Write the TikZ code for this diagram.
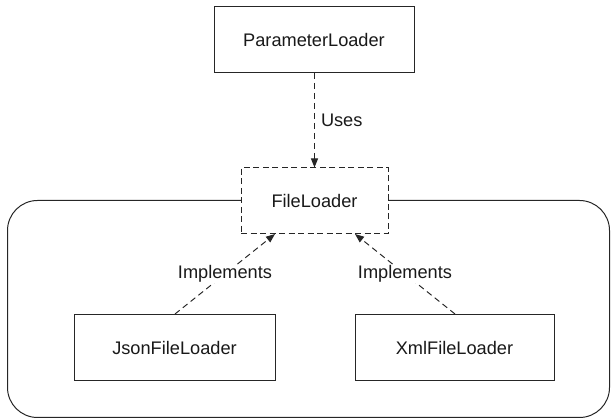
\documentclass[tikz,border=0pt]{standalone}
\usepackage{fontspec}
\setmainfont{Liberation Sans}
\usetikzlibrary{arrows.meta}
\begin{document}
\begin{tikzpicture}[x=1pt,y=-1pt,
  every node/.style={font=\fontsize{18.2}{22}\selectfont, text=black!90},
  box/.style={draw=black!85, line width=1pt, fill=white, minimum width=#1, minimum height=66pt, inner sep=0pt},
  dashbox/.style={box=#1, dash pattern=on 6pt off 3.5pt},
  dep/.style={draw=black!85, line width=1pt, dash pattern=on 6pt off 4pt, -{Triangle[length=9pt,width=7pt]}},
  lbl/.style={fill=white, inner sep=1pt}]
\useasboundingbox (0,0) rectangle (611,419);
\draw[black!85, line width=1pt, rounded corners=30pt] (7.5,200.5) rectangle (609.5,417.5);
\node[box=200pt] (param) at (314,40) {ParameterLoader};
\node[dashbox=147pt] (file) at (314.5,201) {FileLoader};
\node[box=201pt] (json) at (174.5,347.5) {JsonFileLoader};
\node[box=199pt] (xml) at (454.5,347.5) {XmlFileLoader};
\coordinate (pb) at (314.5,73);
\coordinate (ft) at (314.5,167.5);
\draw[dep] (pb) -- node[anchor=west, inner sep=0pt, xshift=6pt] (uses) {Uses} (ft);
\coordinate (jt) at (175,314);
\coordinate (fl) at (275,234);
\coordinate (xt) at (455,314);
\coordinate (fr) at (355,234);
\draw[dep] (jt) -- node[lbl] (impl1) {Implements} (fl);
\draw[dep] (xt) -- node[lbl] (impl2) {Implements} (fr);
\end{tikzpicture}
\end{document}
